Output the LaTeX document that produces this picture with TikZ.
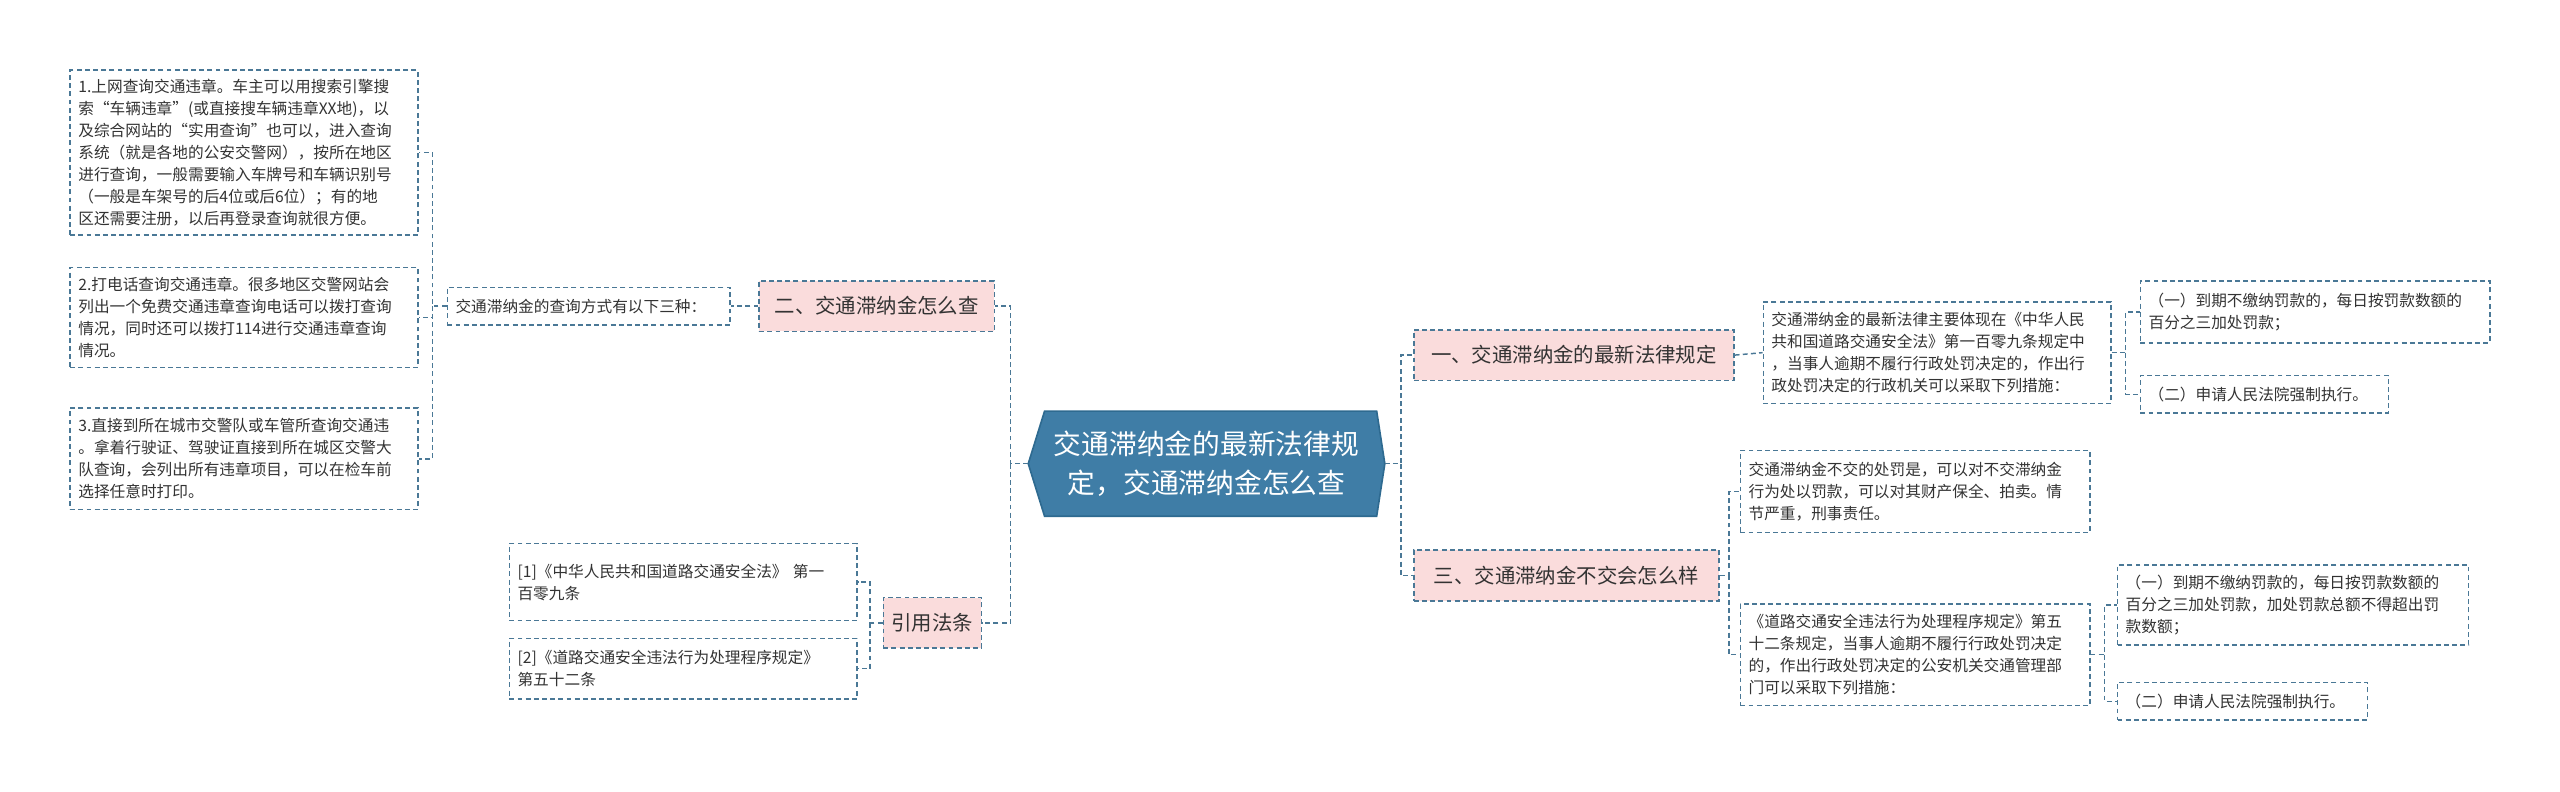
\documentclass[tikz,border=0pt]{standalone}
\usepackage{fontspec}
\setmainfont{Noto Sans CJK SC}
\definecolor{ln}{HTML}{4A7896}
\definecolor{pk}{HTML}{FADCDC}
\definecolor{cb}{HTML}{3F7DA6}
\definecolor{cbd}{HTML}{2E6A90}
\tikzset{
 box/.style={draw=ln,dashed,line width=0.9pt,dash pattern=on 3pt off 2pt,fill=white,inner xsep=5pt,inner ysep=2pt,align=left,font=\fontsize{9.6}{13.5}\selectfont,text=black!80},
 br/.style={box,fill=pk,align=center,font=\fontsize{12.5}{15}\selectfont},
 con/.style={draw=ln,line width=0.9pt,dash pattern=on 3pt off 2pt},
}
\newcommand{\bx}[6]{\node[box,minimum width=#4pt,minimum height=#5pt,text width=#4pt-10pt] (#1) at (#2,#3) {#6};}
\begin{document}
\begin{tikzpicture}[x=1pt,y=-1pt]
\useasboundingbox (0,0) rectangle (1568,485);
% centre
\node[inner sep=0pt,minimum width=218pt,minimum height=64pt] (c) at (739,284) {};
\fill[cb,draw=cbd,line width=1pt] (c.west) -- ([xshift=10pt]c.north west) -- ([xshift=-5pt]c.north east) -- (c.east) -- ([xshift=-5pt]c.south east) -- ([xshift=10pt]c.south west) -- cycle;
\node[text=white,align=center,font=\fontsize{17}{24}\selectfont] (ct) at (c.center) {交通滞纳金的最新法律规\\定，交通滞纳金怎么查};
% branches
\node[br,minimum width=144pt,minimum height=31pt] (q2) at (537,187.5) {二、交通滞纳金怎么查};
\node[br,minimum width=56pt,minimum height=31pt] (ref) at (571,381.5) {引用法条};
\node[br,minimum width=196pt,minimum height=31pt] (b1) at (964,217.5) {一、交通滞纳金的最新法律规定};
\node[br,minimum width=187pt,minimum height=31pt] (b3) at (959.5,352.5) {三、交通滞纳金不交会怎么样};
% left
\bx{qm}{360.5}{187.5}{173}{23}{交通滞纳金的查询方式有以下三种：}
\bx{L1}{149.5}{93.5}{213}{101}{1.上网查询交通违章。车主可以用搜索引擎搜\\索“车辆违章”(或直接搜车辆违章XX地)，以\\及综合网站的“实用查询”也可以，进入查询\\系统（就是各地的公安交警网），按所在地区\\进行查询，一般需要输入车牌号和车辆识别号\\（一般是车架号的后4位或后6位）；有的地\\区还需要注册，以后再登录查询就很方便。}
\bx{L2}{149.5}{194.5}{213}{61}{2.打电话查询交通违章。很多地区交警网站会\\列出一个免费交通违章查询电话可以拨打查询\\情况，同时还可以拨打114进行交通违章查询\\情况。}
\bx{L3}{149.5}{281}{213}{62}{3.直接到所在城市交警队或车管所查询交通违\\。拿着行驶证、驾驶证直接到所在城区交警大\\队查询，会列出所有违章项目，可以在检车前\\选择任意时打印。}
\bx{R1}{418.5}{356.5}{213}{47}{[1]《中华人民共和国道路交通安全法》 第一\\百零九条}
\bx{R2}{418.5}{409.5}{213}{37}{[2]《道路交通安全违法行为处理程序规定》\\第五十二条}
% right
\bx{law}{1186.5}{216}{213}{62}{交通滞纳金的最新法律主要体现在《中华人民\\共和国道路交通安全法》第一百零九条规定中\\，当事人逾期不履行行政处罚决定的，作出行\\政处罚决定的行政机关可以采取下列措施：}
\bx{p1}{1418}{191}{214}{38}{（一）到期不缴纳罚款的，每日按罚款数额的\\百分之三加处罚款；}
\bx{p2}{1387}{241.5}{152}{23}{（二）申请人民法院强制执行。}
\bx{n1}{1173}{301}{214}{50}{交通滞纳金不交的处罚是，可以对不交滞纳金\\行为处以罚款，可以对其财产保全、拍卖。情\\节严重，刑事责任。}
\bx{n2}{1173}{401}{214}{62}{《道路交通安全违法行为处理程序规定》第五\\十二条规定，当事人逾期不履行行政处罚决定\\的，作出行政处罚决定的公安机关交通管理部\\门可以采取下列措施：}
\bx{s1}{1404.5}{370.5}{215}{49}{（一）到期不缴纳罚款的，每日按罚款数额的\\百分之三加处罚款，加处罚款总额不得超出罚\\款数额；}
\bx{s2}{1373.5}{429.5}{153}{23}{（二）申请人民法院强制执行。}
% bus coordinates
\coordinate (xa) at (619,0);
\coordinate (xb) at (858,0);
\coordinate (xc) at (265,0);
\coordinate (xd) at (533,0);
\coordinate (xe) at (1302,0);
\coordinate (xf) at (1059,0);
\coordinate (xg) at (1289,0);
\draw[con] (c.west) -- (c.west -| xa) |- (q2.east);
\draw[con] (c.west -| xa) |- (ref.east);
\draw[con] (c.east) -- (c.east -| xb) |- (b1.west);
\draw[con] (c.east -| xb) |- (b3.west);
\draw[con] (q2.west) -- (qm.east);
\draw[con] (qm.west) -- (qm.west -| xc) |- (L1.east);
\draw[con] (qm.west -| xc) |- (L2.east);
\draw[con] (qm.west -| xc) |- (L3.east);
\draw[con] (ref.west) -- (ref.west -| xd) |- (R1.east);
\draw[con] (ref.west -| xd) |- (R2.east);
\draw[con] (b1.east) -- (law.west);
\draw[con] (law.east) -- (law.east -| xe) |- (p1.west);
\draw[con] (law.east -| xe) |- (p2.west);
\draw[con] (b3.east) -- (b3.east -| xf) |- (n1.west);
\draw[con] (b3.east -| xf) |- (n2.west);
\draw[con] (n2.east) -- (n2.east -| xg) |- (s1.west);
\draw[con] (n2.east -| xg) |- (s2.west);
\end{tikzpicture}
\end{document}
